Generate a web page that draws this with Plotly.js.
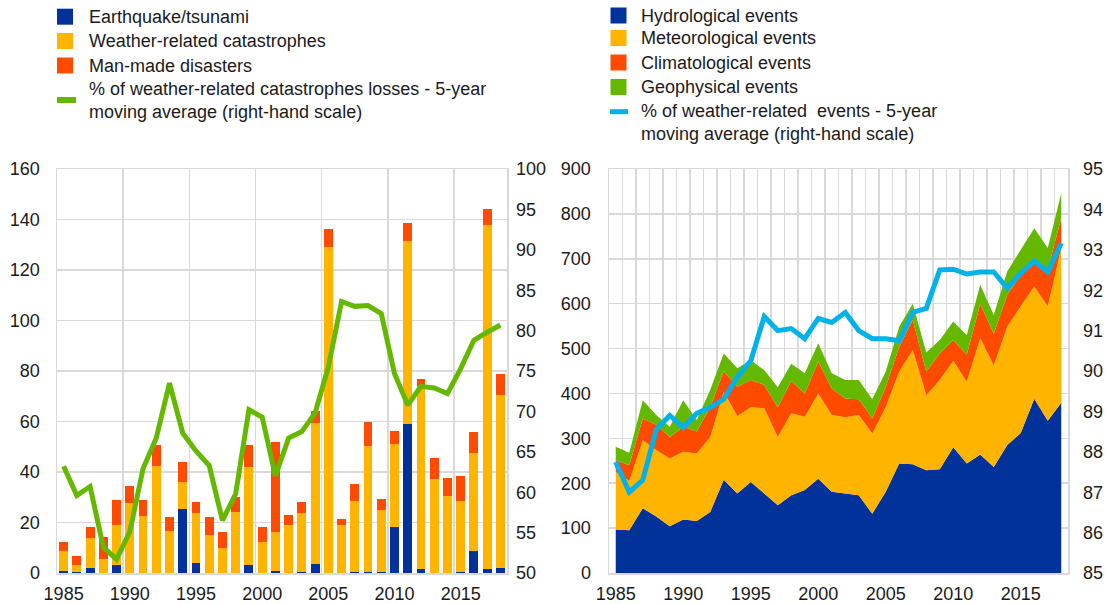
<!DOCTYPE html>
<html><head><meta charset="utf-8">
<script src="https://cdn.plot.ly/plotly-3.0.1.min.js"></script>
<style>html,body{margin:0;padding:0;background:#fff}#chart{width:1113px;height:604px}</style>
</head><body><div id="chart"></div><script>
// ---- data ----
const years = [1985,1986,1987,1988,1989,1990,1991,1992,1993,1994,1995,1996,1997,1998,1999,2000,2001,2002,2003,2004,2005,2006,2007,2008,2009,2010,2011,2012,2013,2014,2015,2016,2017,2018];
// Left chart: insured losses (bars) and % weather-related (5y MA)
const quake    = [0.8,0.4,2.0,0.2,3.3,0,0,0,0,25.3,4.0,0,0,0,3.3,0,0.8,0,0.3,3.4,0,0,0.5,0.3,0.3,18.2,59.2,1.7,0,0.2,0.5,8.8,1.7,2.1];
const weather  = [7.8,2.6,11.9,5.4,15.9,27.8,22.5,42.3,16.5,10.8,19.8,15.1,9.8,24.1,38.7,12.2,15.6,19.2,23.6,56.2,129.3,19.2,28.1,49.9,24.8,32.7,72.4,72.5,37.4,30.1,28.1,38.7,136.1,68.5];
const manMade  = [3.7,3.6,4.3,8.5,9.8,6.6,6.5,8.2,5.8,7.8,4.4,7.2,6.6,5.9,8.5,6.2,35.6,3.9,4.4,4.5,6.9,2.2,6.8,9.6,4.3,5.3,7.2,2.5,8.2,7.4,9.7,8.5,6.3,8.2];
const weatherShare = [63.2,59.6,60.7,53.2,51.7,55.1,62.9,66.7,73.5,67.3,65.1,63.3,56.5,59.8,70.2,69.3,62.0,66.7,67.5,69.8,75.5,83.6,83.0,83.1,82.1,74.7,70.8,73.1,72.9,72.2,75.3,78.8,79.8,80.7];
// Right chart: number of events (stacked areas) and % weather-related (5y MA)
const hydro = [97,95,144,126,104,119,116,136,208,177,203,177,151,173,185,210,181,177,173,132,181,244,242,229,231,280,244,264,236,285,312,388,339,379];
const meteo = [128,110,152,148,151,151,150,167,196,173,166,190,152,183,163,190,171,170,179,179,189,205,255,167,199,193,182,259,226,264,282,250,255,345];
const clim  = [26,35,48,56,48,56,49,67,46,65,61,52,66,72,52,71,59,42,35,33,45,55,67,53,59,46,60,77,71,71,70,60,82,67];
const geo   = [30,28,41,22,23,59,26,38,39,41,44,33,45,38,45,41,34,41,43,43,34,45,36,42,30,41,44,42,42,52,56,70,48,55];
const eventShare = [87.75,87.0,87.3,88.55,88.9,88.6,88.95,89.1,89.3,89.85,90.25,91.35,91.0,91.05,90.8,91.3,91.2,91.45,91.0,90.8,90.8,90.75,91.45,91.55,92.5,92.52,92.4,92.45,92.45,92.05,92.42,92.72,92.45,93.17];
// ticks / labels
const xTickVals = [1985,1990,1995,2000,2005,2010,2015];
const leftLegend = ['Earthquake/tsunami','Weather-related catastrophes','Man-made disasters','% of weather-related catastrophes losses - 5-year<br>moving average (right-hand scale)'];
const rightLegend = ['Hydrological events','Meteorological events','Climatological events','Geophysical events','% of weather-related\u00a0 events - 5-year<br>moving average (right-hand scale)'];

// ---- style ----
const C_BLUE='#003299', C_YEL='#FFB400', C_RED='#FF4B00', C_GRN='#65B800', C_LBL='#00B1EA';
const GRID='#d9d9d9';
const FONT='"Liberation Sans", Arial, sans-serif';
const ML=57, MR=45, MT=169, MB=31, W=1113, H=604;
const PW=W-ML-MR, PH=H-MT-MB;
const px=p=>(p-ML)/PW, py=p=>(H-MB-p)/PH;

const traces = [
  {type:'bar', x:years, y:quake, name:leftLegend[0], marker:{color:C_BLUE}, xaxis:'x', yaxis:'y'},
  {type:'bar', x:years, y:weather, name:leftLegend[1], marker:{color:C_YEL}, xaxis:'x', yaxis:'y'},
  {type:'bar', x:years, y:manMade, name:leftLegend[2], marker:{color:C_RED}, xaxis:'x', yaxis:'y'},
  {type:'scatter', mode:'lines', x:years, y:weatherShare, name:'share', line:{color:C_GRN, width:5}, xaxis:'x', yaxis:'y2'},
  {type:'scatter', mode:'none', stackgroup:'ev', x:years, y:hydro, fillcolor:C_BLUE, xaxis:'x2', yaxis:'y3'},
  {type:'scatter', mode:'none', stackgroup:'ev', x:years, y:meteo, fillcolor:C_YEL, xaxis:'x2', yaxis:'y3'},
  {type:'scatter', mode:'none', stackgroup:'ev', x:years, y:clim, fillcolor:C_RED, xaxis:'x2', yaxis:'y3'},
  {type:'scatter', mode:'none', stackgroup:'ev', x:years, y:geo, fillcolor:C_GRN, xaxis:'x2', yaxis:'y3'},
  {type:'scatter', mode:'lines', x:years, y:eventShare, line:{color:C_LBL, width:5}, xaxis:'x2', yaxis:'y4'}
];

// legends drawn as shapes + annotations
const shapes=[], annotations=[];
function sq(x0,cy,color,s){shapes.push({type:'rect',xref:'paper',yref:'paper',x0:px(x0),x1:px(x0+s),y0:py(cy+s/2),y1:py(cy-s/2),fillcolor:color,line:{width:0}});}
function ln(x0,x1,cy,color,w){shapes.push({type:'line',xref:'paper',yref:'paper',x0:px(x0),x1:px(x1),y0:py(cy),y1:py(cy),line:{color:color,width:w}});}
function tx(x,cy,t){annotations.push({xref:'paper',yref:'paper',x:px(x),y:py(cy),xanchor:'left',yanchor:'middle',align:'left',showarrow:false,text:t,font:{family:FONT,size:18,color:'#1a1a1a'}});}
const lc=[C_BLUE,C_YEL,C_RED];
[16.7,41,65.5].forEach((cy,i)=>{sq(57,cy,lc[i],16);tx(87,cy,leftLegend[i]);});
ln(57,76,100,C_GRN,6); tx(87,100.5,leftLegend[3]);
const rc=[C_BLUE,C_YEL,C_RED,C_GRN];
[15.5,38,62.5,87].forEach((cy,i)=>{sq(610.5,cy,rc[i],16);tx(639,cy,rightLegend[i]);});
ln(610,628,111.7,C_LBL,5); tx(639,122.5,rightLegend[4]);

const axBase = {ticks:'', zeroline:false, showline:true, mirror:true, linecolor:GRID, linewidth:1.5, fixedrange:true};
const layout = {
  width:W, height:H, margin:{l:ML,r:MR,t:MT,b:MB},
  paper_bgcolor:'#fff', plot_bgcolor:'#fff',
  font:{family:FONT, size:18, color:'#1a1a1a'},
  showlegend:false, barmode:'stack', bargap:0.33,
  xaxis:Object.assign({}, axBase, {domain:[0,450/PW], anchor:'y', range:[1984.5,2018.5], tickmode:'array', tickvals:xTickVals, showgrid:false,
        minor:{tickmode:'linear', tick0:1984.5, dtick:5, showgrid:true, gridcolor:GRID, gridwidth:1.5, ticks:''}, ticklabelstandoff:4}),
  yaxis:Object.assign({}, axBase, {domain:[0,1], anchor:'x', range:[0,160], tickmode:'linear', tick0:0, dtick:20, showgrid:true, gridcolor:GRID, gridwidth:1.5, ticklabelstandoff:12}),
  yaxis2:{overlaying:'y', side:'right', anchor:'x', range:[50,100], tickmode:'linear', tick0:50, dtick:5, showgrid:false, zeroline:false, ticks:'', showline:false, ticklabelstandoff:8, fixedrange:true},
  xaxis2:Object.assign({}, axBase, {domain:[552/PW,1], anchor:'y3', range:[1984.5,2018.5], tickmode:'array', tickvals:xTickVals, showgrid:false,
        minor:{tickmode:'linear', tick0:1984.5, dtick:1, showgrid:true, gridcolor:GRID, gridwidth:1.5, ticks:''}, ticklabelstandoff:4}),
  yaxis3:Object.assign({}, axBase, {domain:[0,1], anchor:'x2', range:[0,900], tickmode:'linear', tick0:0, dtick:100, showgrid:true, gridcolor:GRID, gridwidth:1.5, ticklabelstandoff:13}),
  yaxis4:{overlaying:'y3', side:'right', anchor:'x2', range:[85,95], tickmode:'linear', tick0:85, dtick:1, showgrid:false, zeroline:false, ticks:'', showline:false, ticklabelstandoff:14, fixedrange:true},
  shapes:shapes, annotations:annotations
};
Plotly.newPlot('chart', traces, layout, {staticPlot:true, displayModeBar:false});
</script></body></html>
